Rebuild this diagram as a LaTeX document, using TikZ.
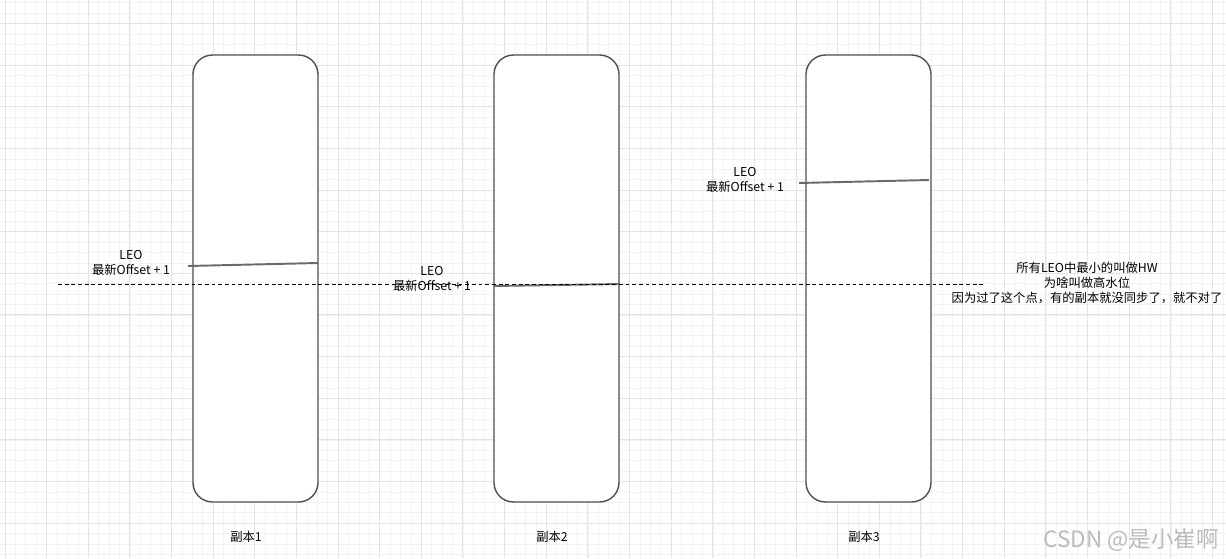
\documentclass[tikz,border=0pt]{standalone}
\usepackage{fontspec}
\setmainfont{Noto Sans CJK SC}
\usepackage{tikz}

\definecolor{gridmajor}{HTML}{E4E4E4}
\definecolor{gridminor}{HTML}{F3F3F3}
\definecolor{boxline}{HTML}{505050}
\definecolor{leogray}{HTML}{6A6A6A}
\definecolor{markgray}{HTML}{BBBBBB}

\tikzset{
  replica/.style={draw=boxline, line width=0.8pt, rounded corners=11pt, fill=white, minimum width=2.5cm, minimum height=8.94cm, inner sep=0pt},
  leoline/.style={draw=leogray, line width=1.1pt},
  hwline/.style={line width=0.5pt, dash pattern=on 2.2pt off 1.6pt},
  lbl/.style={font=\fontsize{7}{8.5}\selectfont, align=center, inner sep=0pt}
}

\begin{document}
\begin{tikzpicture}[x=0.02cm, y=-0.02cm]
\useasboundingbox (0,0) rectangle (1226,558);
\fill[white] (0,0) rectangle (1226,558);

%Grid
\foreach \gx in {5,15.41,...,1226} \draw[gridminor, line width=0.4pt] (\gx,0)--(\gx,558);
\foreach \gy in {2.7,13.11,...,558} \draw[gridminor, line width=0.4pt] (0,\gy)--(1226,\gy);
\foreach \gx in {5,46.63,...,1226} \draw[gridmajor, line width=0.5pt] (\gx,0)--(\gx,558);
\foreach \gy in {23.5,65.13,...,558} \draw[gridmajor, line width=0.5pt] (0,\gy)--(1226,\gy);

%Replicas
\node[replica] (r1) at (255.5,278.5) {};
\node[replica] (r2) at (556.5,278.5) {};
\node[replica] (r3) at (868.5,278.5) {};

\node[lbl] (n1) at (246,537) {副本1};
\node[lbl] (n2) at (552,537) {副本2};
\node[lbl] (n3) at (864,537) {副本3};

%LEO of each replica
\coordinate (l1a) at (188,266); \coordinate (l1b) at (318,263);
\coordinate (l2a) at (494,286); \coordinate (l2b) at (620,284);
\coordinate (l3a) at (799,183); \coordinate (l3b) at (929,180);
\draw[leoline] (l1a)--(l1b);
\draw[leoline] (l2a)--(l2b);
\draw[leoline] (l3a)--(l3b);

\node[lbl] (t1) at (131,262.5) {LEO\\最新Offset + 1};
\node[lbl] (t2) at (432,278.5) {LEO\\最新Offset + 1};
\node[lbl] (t3) at (745,179.5) {LEO\\最新Offset + 1};

%HW
\coordinate (hwa) at (58,284); \coordinate (hwb) at (986,284);
\draw[hwline] (hwa)--(hwb);

\node[lbl] (hw) at (1087,283) {所有LEO中最小的叫做HW\\为啥叫做高水位\\因为过了这个点，有的副本就没同步了，就不对了};

\node[font=\fontsize{12.8}{14}\selectfont, text=markgray, inner sep=0pt] (wm) at (1131,540) {CSDN @是小崔啊};
\end{tikzpicture}
\end{document}
